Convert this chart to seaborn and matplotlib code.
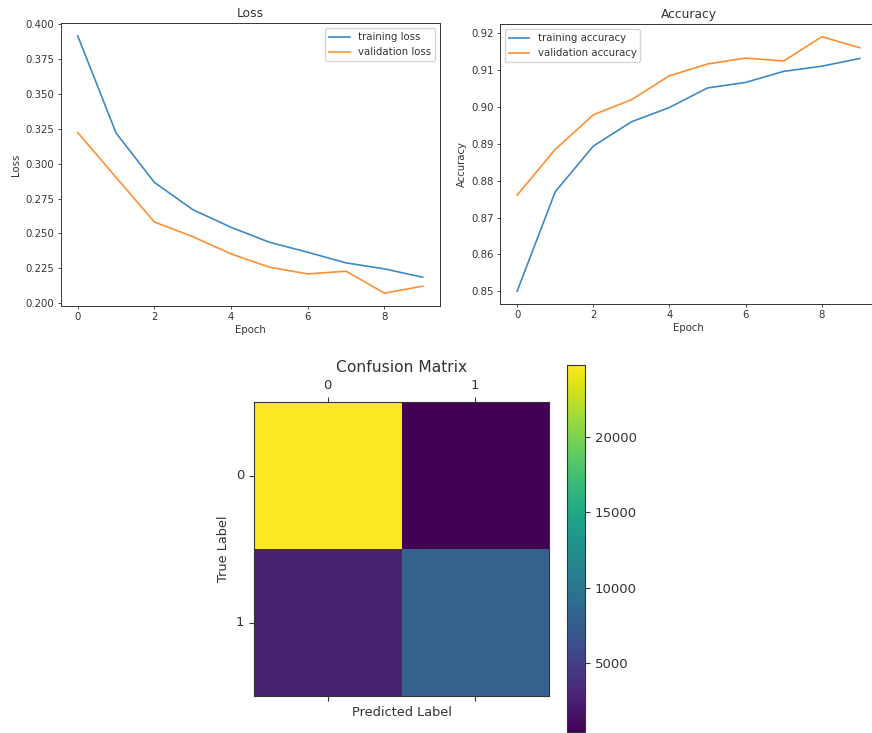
import numpy as np
import pandas as pd
import matplotlib
matplotlib.use("Agg")
import matplotlib.pyplot as plt
import seaborn as sns

# training history
epochs = list(range(10))
train_loss = [0.3917, 0.3220, 0.2866, 0.2671, 0.2544, 0.2437, 0.2365, 0.2289, 0.2246, 0.2186]
val_loss = [0.3224, 0.2902, 0.2582, 0.2477, 0.2353, 0.2258, 0.2210, 0.2229, 0.2072, 0.2122]
train_acc = [0.8500, 0.8770, 0.8894, 0.8960, 0.8999, 0.9052, 0.9067, 0.9097, 0.9111, 0.9132]
val_acc = [0.8761, 0.8885, 0.8979, 0.9020, 0.9085, 0.9117, 0.9133, 0.9125, 0.9191, 0.9161]

# confusion matrix
class_labels = ["0", "1"]
cm_row0 = [24770, 430]
cm_row1 = [2620, 8100]

plt.rcParams["font.family"] = ["DejaVu Sans"]
txt = "#333333"
plt.rcParams["text.color"] = txt
plt.rcParams["axes.labelcolor"] = txt
plt.rcParams["xtick.color"] = txt
plt.rcParams["ytick.color"] = txt
plt.rcParams["axes.edgecolor"] = "#333333"

W, H = 872, 733
fig = plt.figure(figsize=(W / 100, H / 100), dpi=100)


def px_axes(left, top, right, bottom):
    return fig.add_axes([left / W, 1 - bottom / H, (right - left) / W, (bottom - top) / H])


def history_plot(ax, train, val, kind, title, loc):
    df = pd.DataFrame({
        "Epoch": epochs * 2,
        "value": train + val,
        "series": [f"training {kind}"] * 10 + [f"validation {kind}"] * 10,
    })
    sns.lineplot(data=df, x="Epoch", y="value", hue="series",
                 palette=["#3d8ac4", "#ff9030"], linewidth=1.2, ax=ax)
    ax.set_title(title, fontsize=8.8, pad=4)
    ax.set_xlabel("Epoch", fontsize=7.3, labelpad=2)
    ax.set_ylabel(title, fontsize=7.3, labelpad=3)
    ax.tick_params(labelsize=7.3, length=2.5, width=0.6, pad=2)
    ax.set_xticks([0, 2, 4, 6, 8])
    for s in ax.spines.values():
        s.set_linewidth(0.7)
    ax.legend(loc=loc, fontsize=7.3, frameon=True, handlelength=2.0)


ax1 = px_axes(60.5, 23, 440, 306)
history_plot(ax1, train_loss, val_loss, "loss", "Loss", "upper right")
ax1.set_yticks(np.arange(0.200, 0.4001, 0.025))
ax1.yaxis.set_major_formatter(matplotlib.ticker.FormatStrFormatter("%.3f"))

ax2 = px_axes(500, 24, 877, 304)
history_plot(ax2, train_acc, val_acc, "accuracy", "Accuracy", "upper left")
ax2.set_yticks(np.arange(0.85, 0.9201, 0.01))
ax2.yaxis.set_major_formatter(matplotlib.ticker.FormatStrFormatter("%.2f"))

# confusion matrix
ax3 = px_axes(254, 402, 549, 696)
cax = px_axes(567, 365, 585, 732)
cm = pd.DataFrame([cm_row0, cm_row1], index=class_labels, columns=class_labels)
sns.heatmap(cm, cmap="viridis", ax=ax3, cbar_ax=cax, square=False,
            xticklabels=class_labels, yticklabels=class_labels)
for s in ax3.spines.values():
    s.set_visible(True)
    s.set_linewidth(0.8)
ax3.tick_params(top=True, labeltop=True, bottom=True, labelbottom=False,
                left=True, labelsize=9.5, length=3.5, width=0.8)
ax3.set_yticklabels(class_labels, rotation=0)
ax3.set_xticklabels(class_labels, rotation=0)
ax3.set_title("Confusion Matrix", fontsize=11.2, pad=5)
ax3.set_xlabel("Predicted Label", fontsize=9.3)
ax3.set_ylabel("True Label", fontsize=9.3)

cax.set_yticks([5000, 10000, 15000, 20000])
cax.tick_params(labelsize=9.5, length=3.5, width=0.8)
cb = ax3.collections[0].colorbar
cb.outline.set_visible(True)
cb.outline.set_linewidth(0.8)

fig.savefig("out.png", dpi=100)
